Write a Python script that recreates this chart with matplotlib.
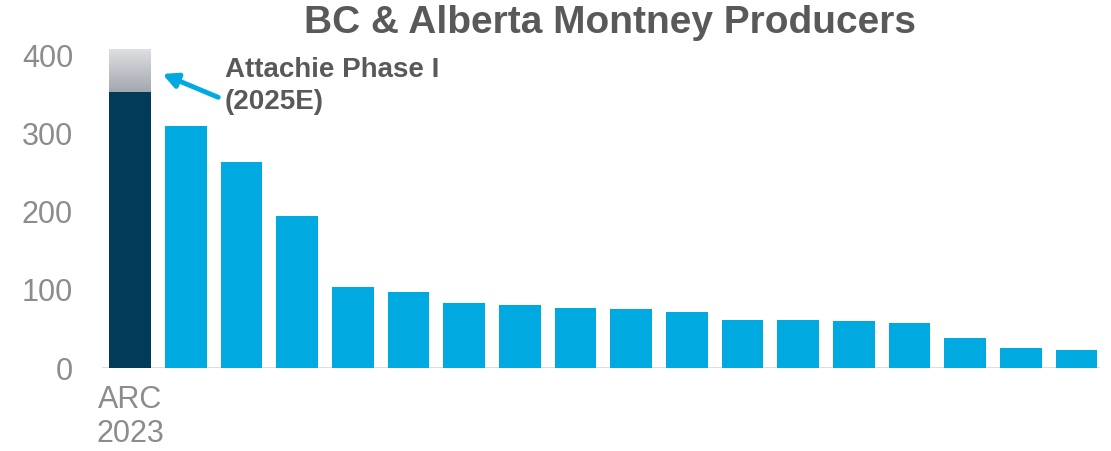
import numpy as np
import matplotlib.pyplot as plt

# producer volumes
labels = ["ARC\n2023"] + [""] * 17
values = [353, 310, 264, 194, 103, 97, 83, 81, 77, 75, 72, 62, 61, 60, 57, 38, 25, 23]
attachie_add = 55  # Attachie Phase I (2025E) on top of ARC

dark_blue = "#023a5a"
light_blue = "#00a9e0"
grey_text = "#8c8c8c"
title_grey = "#595959"

plt.rcParams['font.family'] = ['Liberation Sans', 'DejaVu Sans']

fig = plt.figure(figsize=(11.11, 4.51), dpi=100)
ax = fig.add_axes([0.092, 0.184, 0.898, 0.711])

x = np.arange(len(values))
colors = [dark_blue] + [light_blue] * (len(values) - 1)
ax.bar(x, values, width=0.75, color=colors, edgecolor="none", zorder=2)

# grey gradient block for Attachie
top_bar = ax.bar(x[0], attachie_add, bottom=values[0], width=0.75,
                 color="none", edgecolor="none", zorder=2)[0]
grad = np.linspace(0, 1, 100).reshape(-1, 1)
img = ax.imshow(grad, cmap=plt.matplotlib.colors.LinearSegmentedColormap.from_list(
                    "g", ["#a3a7ae", "#dfe0e3"]),
                extent=[x[0] - 0.375, x[0] + 0.375, values[0], values[0] + attachie_add],
                origin="lower", aspect="auto", zorder=2)
img.set_clip_path(top_bar)

ax.axhline(0, color="#d9d9d9", lw=2, zorder=1)

ax.annotate("Attachie Phase I\n(2025E)", xy=(0.58, 376), xytext=(1.7, 398),
            fontsize=20, fontweight="bold", color=title_grey, va="top", ha="left",
            linespacing=1.3,
            arrowprops=dict(arrowstyle="-|>", color=light_blue, lw=3.5,
                            mutation_scale=22, shrinkA=0, shrinkB=0,
                            relpos=(-0.03, 0.3)))

ax.set_xlim(-0.5, 17.42)
ax.set_ylim(0, 410)
ax.set_yticks([0, 100, 200, 300, 400])
ax.set_xticks(x)
ax.set_xticklabels(labels)
ax.tick_params(length=0, labelsize=22, labelcolor=grey_text, pad=12)
ax.tick_params(axis="y", pad=21)
for s in ax.spines.values():
    s.set_visible(False)

fig.suptitle("BC & Alberta Montney Producers", x=0.549, y=0.99, va="top",
             fontsize=28, fontweight="bold", color=title_grey)

fig.savefig("out.png", dpi=100)
